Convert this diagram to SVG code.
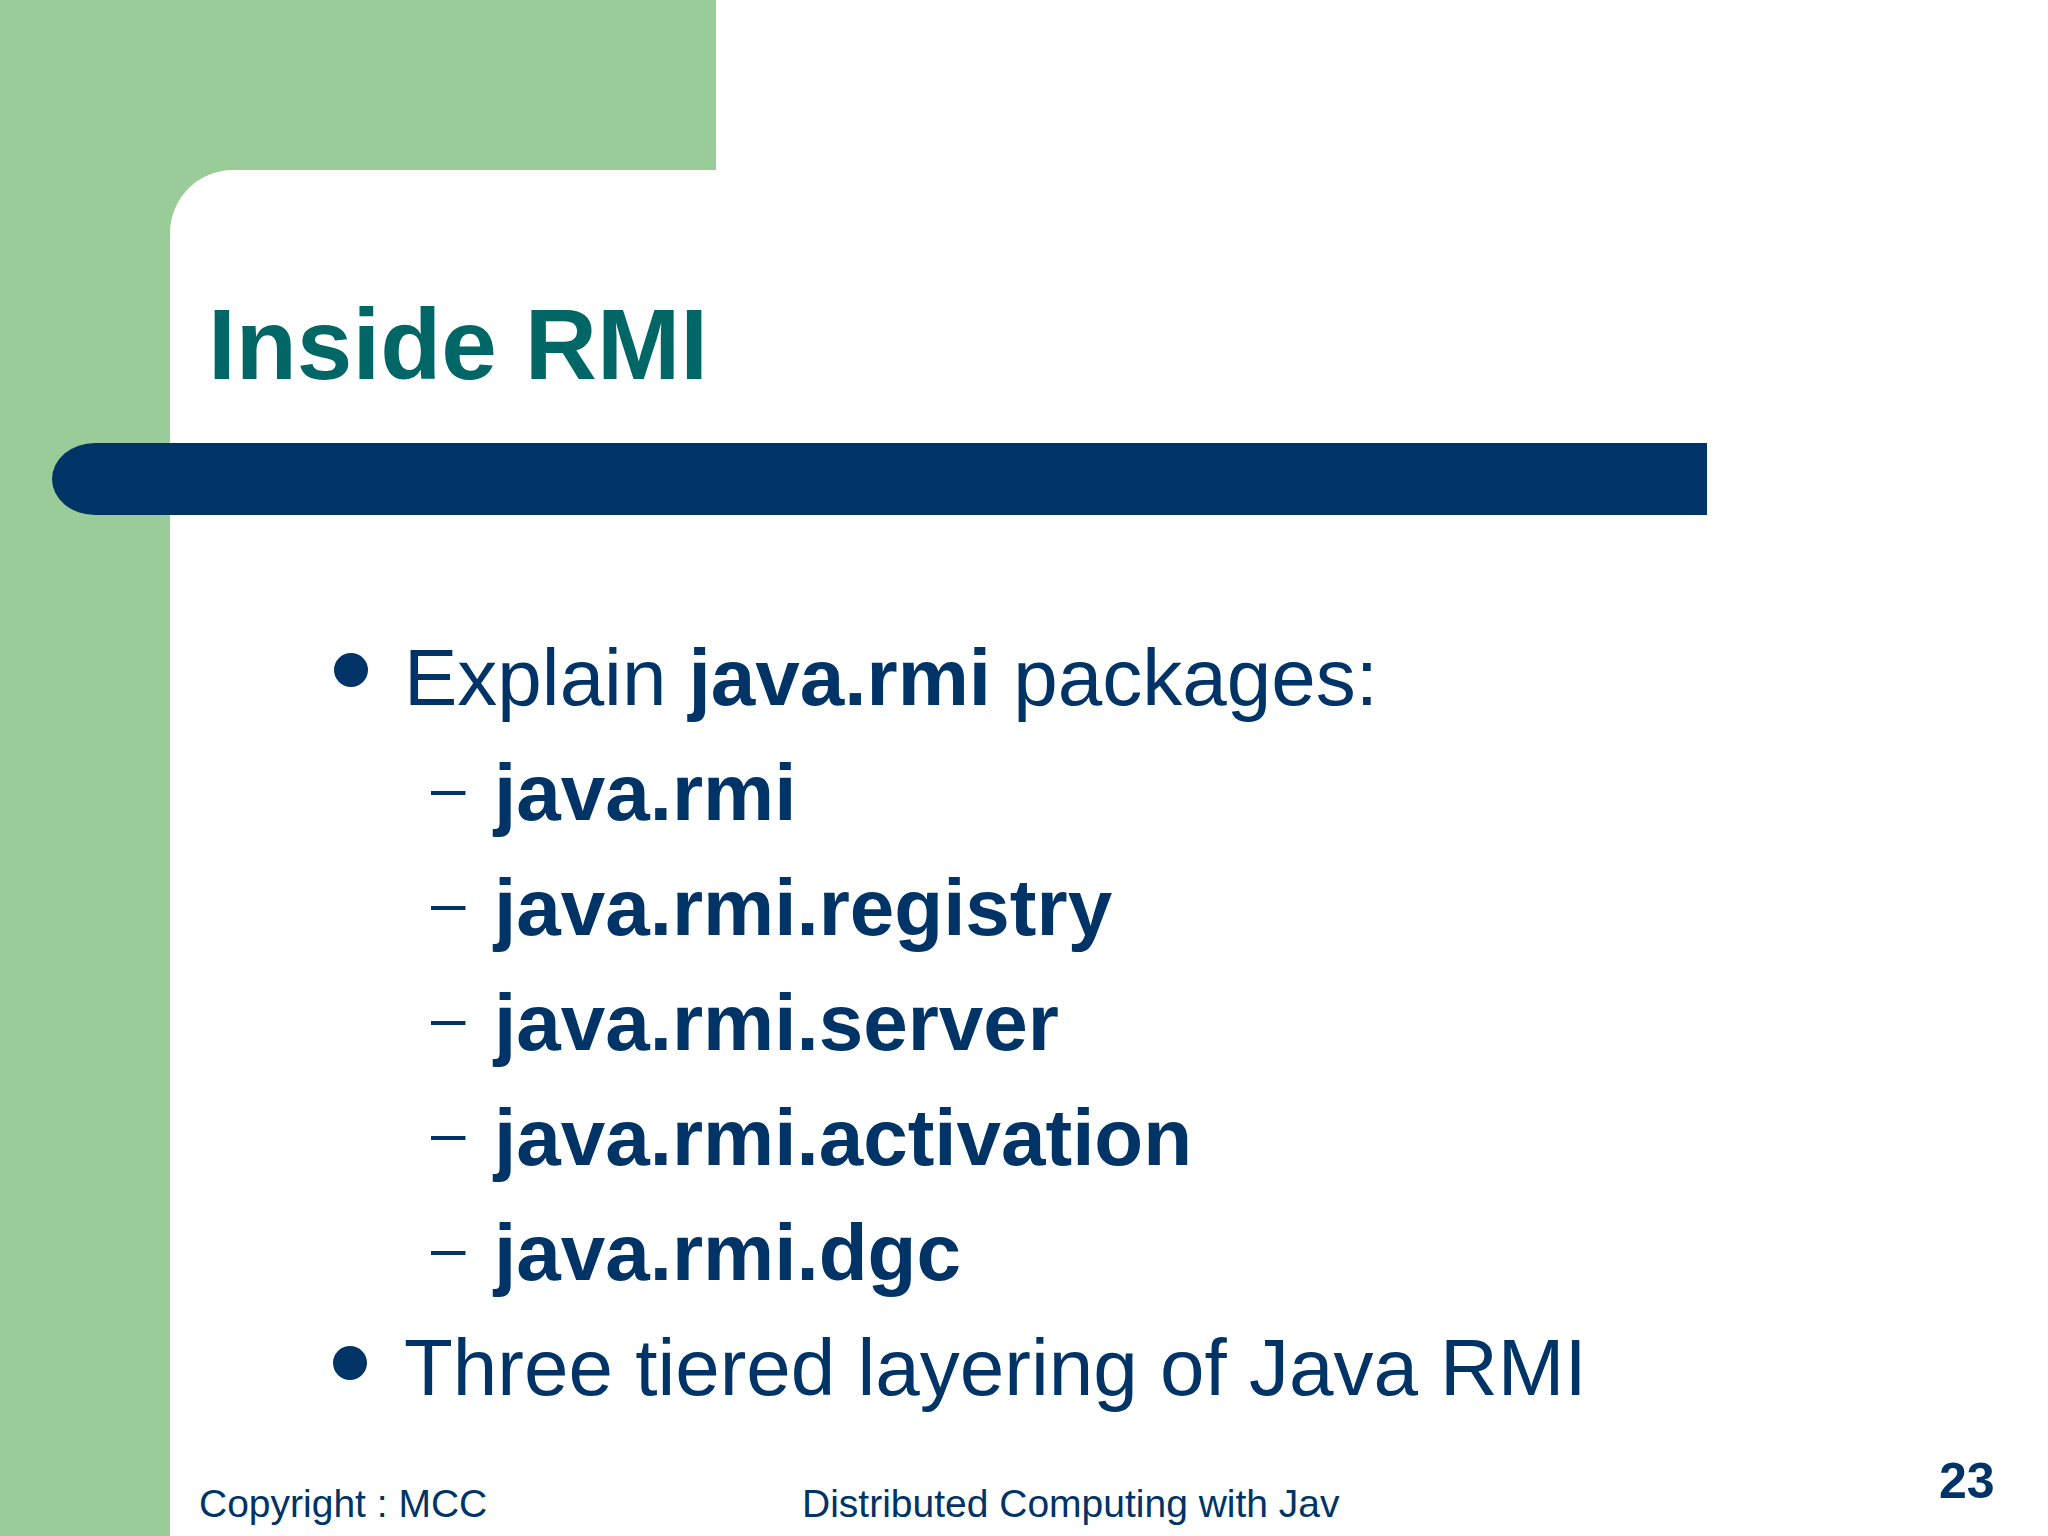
<svg xmlns="http://www.w3.org/2000/svg" width="2048" height="1536" viewBox="0 0 2048 1536">
<style>
.txt{font-family:"Liberation Sans",Arial,sans-serif;fill:#003366}
.body{font-size:80px}
.b{font-weight:bold}
.dash{font-family:"Liberation Sans",Arial,sans-serif;fill:#003366;font-size:62px}
.foot{font-size:39px}
</style>
<rect x="0" y="0" width="2048" height="1536" fill="#ffffff"/>
<g id="background">
<path d="M0,0 H716 V170 H233 A63 63 0 0 0 170 233 V1536 H0 Z" fill="#99CC99"/>
<path d="M95,443 H1707 V515 H95 A43 36 0 0 1 52 479 A43 36 0 0 1 95 443 Z" fill="#003366"/>
</g>
<g id="title">
<text x="208" y="379" font-family="Liberation Sans, Arial, sans-serif" font-weight="bold" font-size="100" fill="#006666">Inside RMI</text>
</g>
<g id="bullet1">
<circle cx="351" cy="670" r="17" fill="#003366"/>
<text class="txt body" x="404" y="705">Explain <tspan class="b">java.rmi</tspan> packages:</text>
</g>
<g id="sub1">
<text class="dash" x="431" y="809">–</text>
<text class="txt body b" x="494" y="820">java.rmi</text>
</g>
<g id="sub2">
<text class="dash" x="431" y="924">–</text>
<text class="txt body b" x="494" y="935">java.rmi.registry</text>
</g>
<g id="sub3">
<text class="dash" x="431" y="1039">–</text>
<text class="txt body b" x="494" y="1050">java.rmi.server</text>
</g>
<g id="sub4">
<text class="dash" x="431" y="1154">–</text>
<text class="txt body b" x="494" y="1165">java.rmi.activation</text>
</g>
<g id="sub5">
<text class="dash" x="431" y="1269">–</text>
<text class="txt body b" x="494" y="1280">java.rmi.dgc</text>
</g>
<g id="bullet2">
<circle cx="350" cy="1363" r="17" fill="#003366"/>
<text class="txt body" x="404" y="1395">Three tiered layering of Java RMI</text>
</g>
<g id="footer">
<text class="txt foot" x="199" y="1517">Copyright : MCC</text>
<text class="txt foot" x="802" y="1517">Distributed Computing with Jav</text>
<text class="txt b" x="1939" y="1498" font-size="50">23</text>
</g>
<g id="connectors"/>
</svg>
